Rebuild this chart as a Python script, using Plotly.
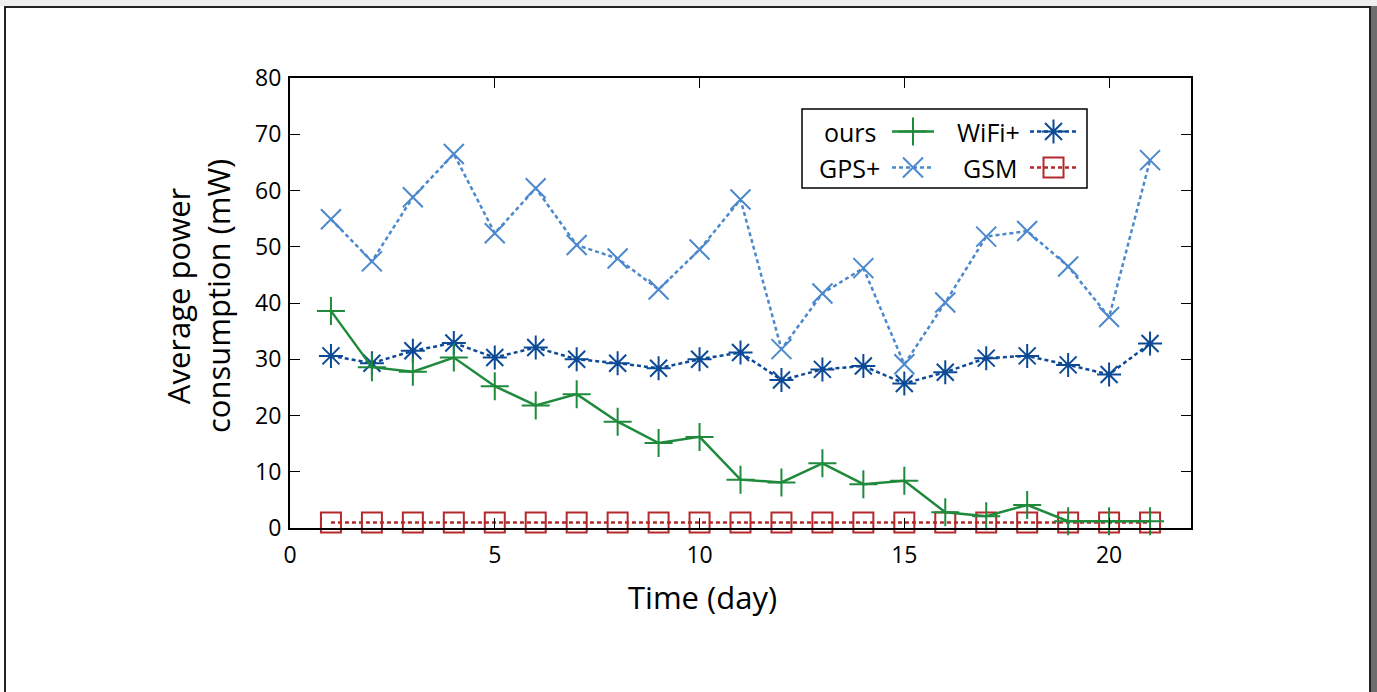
import plotly.graph_objects as go

days = list(range(1, 22))
ours = [38.6, 28.6, 27.8, 30.3, 25.2, 21.8, 23.8, 18.9, 15.1, 16.2, 8.6,
        8.1, 11.5, 7.8, 8.4, 2.8, 2.1, 4.1, 1.2, 1.2, 1.2]
wifi = [30.6, 29.3, 31.5, 32.9, 30.3, 32.1, 30.0, 29.3, 28.4, 30.0, 31.2,
        26.3, 28.2, 28.8, 25.7, 27.7, 30.2, 30.6, 29.0, 27.3, 32.8]
gps = [54.9, 47.4, 58.8, 66.5, 52.4, 60.4, 50.3, 47.9, 42.4, 49.5, 58.4,
       31.8, 41.7, 46.2, 29.1, 40.1, 51.8, 52.8, 46.5, 37.5, 65.4]
gsm = [1.0] * 21

x_ticks = [0, 5, 10, 15, 20]
y_ticks = [0, 10, 20, 30, 40, 50, 60, 70, 80]

C_OURS = "#1f8a3c"
C_WIFI = "#0d4a96"
C_GPS = "#4b88cc"
C_GSM = "#b3292c"
BG = "#fde8c4"
FONT = "Open Sans"

W, H = 1377, 692
L, R, T, B = 290, 1191, 78, 528


def px(x):
    return (x - L) / (R - L)


def py(y):
    return (B - y) / (B - T)


series = [
    ("ours", ours, C_OURS, "cross-thin-open", 20, "solid"),
    ("WiFi+", wifi, C_WIFI, "asterisk-open", 20, "4px,3px"),
    ("GPS+", gps, C_GPS, "x-thin-open", 20, "4px,3px"),
    ("GSM", gsm, C_GSM, "square-open", 20, "4px,3px"),
]

fig = go.Figure()
order = [3, 2, 1, 0]
for i in order:
    name, vals, col, sym, sz, dash = series[i]
    fig.add_trace(go.Scatter(
        x=days, y=vals, name=name, mode="lines+markers",
        line=dict(color=col, width=2.5, dash=dash),
        marker=dict(symbol=sym, size=sz, color=col,
                    line=dict(color=col, width=2)),
        cliponaxis=False, showlegend=False,
    ))

# custom legend samples on an overlay axis (0..1)
leg_pos = {
    "ours": (px(892), px(934), py(131.5)),
    "WiFi+": (px(1030), px(1077), py(131.5)),
    "GPS+": (px(892), px(934), py(167.5)),
    "GSM": (px(1030), px(1077), py(167.5)),
}
for name, vals, col, sym, sz, dash in series:
    x0, x1, yy = leg_pos[name]
    fig.add_trace(go.Scatter(
        x=[x0, x1], y=[yy, yy], mode="lines", xaxis="x2", yaxis="y2",
        line=dict(color=col, width=2.5, dash=dash), showlegend=False,
        hoverinfo="skip"))
    fig.add_trace(go.Scatter(
        x=[(x0 + x1) / 2], y=[yy], mode="markers", xaxis="x2", yaxis="y2",
        marker=dict(symbol=sym, size=sz, color=col,
                    line=dict(color=col, width=2)),
        showlegend=False, hoverinfo="skip"))

annotations = []
for name, xr, yrow in [("ours", 879, 131.5), ("GPS+", 882, 167.5),
                       ("WiFi+", 1022, 131.5), ("GSM", 1019, 167.5)]:
    annotations.append(dict(
        text=name, x=px(xr), y=py(yrow), xref="paper", yref="paper",
        xanchor="right", yanchor="middle", showarrow=False,
        font=dict(family=FONT, size=25, color="black")))

annotations.append(dict(
    text="Average power<br>consumption (mW)", x=px(198), y=py(296),
    xref="paper", yref="paper", xanchor="center", yanchor="middle",
    textangle=-90, showarrow=False,
    font=dict(family=FONT, size=31, color="black")))
annotations.append(dict(
    text="Time (day)", x=px(702), y=py(597), xref="paper", yref="paper",
    xanchor="center", yanchor="middle", showarrow=False,
    font=dict(family=FONT, size=31, color="black")))

shapes = [
    # page frame
    dict(type="rect", xref="paper", yref="paper",
         x0=px(0), x1=px(W), y0=py(0), y1=py(6), fillcolor="#efefef",
         line=dict(width=0), layer="below"),
    dict(type="rect", xref="paper", yref="paper",
         x0=px(1371), x1=px(W), y0=py(H + 10), y1=py(6), fillcolor="#6e6e6e",
         line=dict(width=0), layer="below"),
    dict(type="rect", xref="paper", yref="paper",
         x0=px(5), x1=px(1370), y0=py(H + 20), y1=py(7),
         fillcolor="white", line=dict(color="#222", width=2), layer="below"),
    # legend box
    dict(type="rect", xref="paper", yref="paper",
         x0=px(802), x1=px(1087), y0=py(188), y1=py(109),
         fillcolor="white", line=dict(color="black", width=1.5), layer="below"),
]

axis_common = dict(
    showline=True, linecolor="black", linewidth=2, mirror="ticks",
    ticks="inside", ticklen=10, tickwidth=1.2, tickcolor="black",
    showgrid=False, zeroline=False,
    tickfont=dict(family=FONT, size=23, color="black"),
)

fig.update_layout(
    width=W, height=H,
    margin=dict(l=L, r=W - R, t=T, b=H - B),
    paper_bgcolor="white", plot_bgcolor=BG,
    xaxis=dict(range=[0, 22], tickvals=x_ticks, ticklabelstandoff=5,
               **axis_common),
    yaxis=dict(range=[0, 80], tickvals=y_ticks, ticklabelstandoff=2,
               **axis_common),
    xaxis2=dict(range=[0, 1], overlaying="x", visible=False, fixedrange=True),
    yaxis2=dict(range=[0, 1], overlaying="y", visible=False, fixedrange=True),
    shapes=shapes, annotations=annotations, showlegend=False,
)

fig.write_html("out.html")
